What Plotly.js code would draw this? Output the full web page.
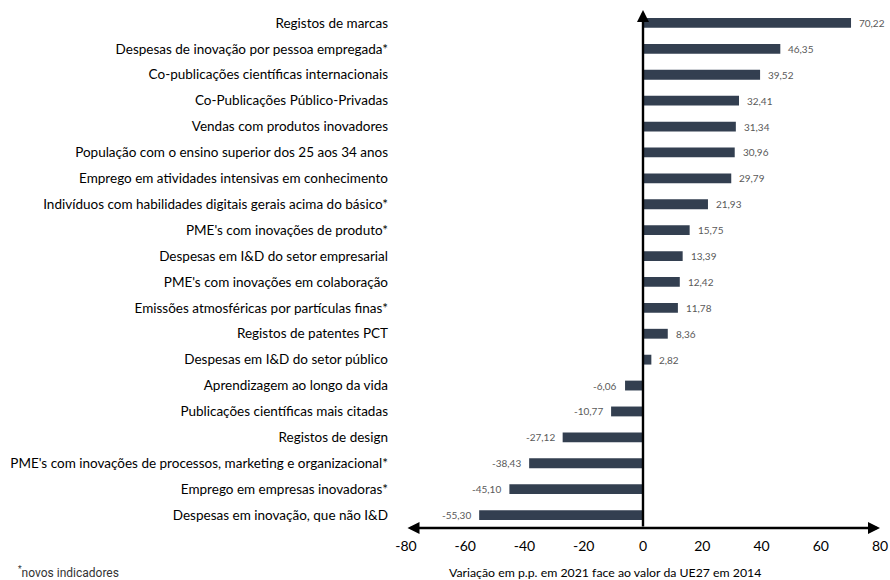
<!DOCTYPE html>
<html>
<head>
<meta charset="utf-8">
<script src="https://cdn.plot.ly/plotly-3.0.1.min.js"></script>
<style>
  html, body { margin: 0; padding: 0; background: #ffffff; }
  #chart { width: 890px; height: 580px; }
</style>
</head>
<body>
<div id="chart"></div>
<script>
// Indicators, listed top to bottom
const indicators = [
  "Registos de marcas",
  "Despesas de inovação por pessoa empregada*",
  "Co-publicações científicas internacionais",
  "Co-Publicações Público-Privadas",
  "Vendas com produtos inovadores",
  "População com o ensino superior dos 25 aos 34 anos",
  "Emprego em atividades intensivas em conhecimento",
  "Indivíduos com habilidades digitais gerais acima do básico*",
  "PME's com inovações de produto*",
  "Despesas em I&D do setor empresarial",
  "PME's com inovações em colaboração",
  "Emissões atmosféricas por partículas finas*",
  "Registos de patentes PCT",
  "Despesas em I&D do setor público",
  "Aprendizagem ao longo da vida",
  "Publicações científicas mais citadas",
  "Registos de design",
  "PME's com inovações de processos, marketing e organizacional*",
  "Emprego em empresas inovadoras*",
  "Despesas em inovação, que não I&D"
];

// Change in percentage points, 2021 vs EU27 2014
const variation = [
  70.22, 46.35, 39.52, 32.41, 31.34, 30.96, 29.79, 21.93, 15.75, 13.39,
  12.42, 11.78, 8.36, 2.82, -6.06, -10.77, -27.12, -38.43, -45.10, -55.30
];

const xTicks = [-80, -60, -40, -20, 0, 20, 40, 60, 80];

const barColor = "#333f50";
const labelFont = "Lato, 'Open Sans', sans-serif";

const bars = {
  type: "bar",
  orientation: "h",
  x: variation,
  y: indicators,
  marker: { color: barColor, line: { width: 0 } },
  width: 0.38,
  hoverinfo: "skip"
};

// Value labels next to each bar end
const valueLabels = variation.map((v, i) => ({
  xref: "x", yref: "y",
  x: v, y: indicators[i],
  text: v.toFixed(2).replace(".", ","),
  showarrow: false,
  xanchor: v >= 0 ? "left" : "right",
  xshift: v >= 0 ? 6 : -6,
  font: { family: labelFont, size: 10, color: "#595959" }
}));

// Axis arrows: vertical through zero, horizontal double-headed along the bottom
const axisArrows = [
  {
    xref: "x", yref: "paper",
    x: 0, y: 1.0,
    axref: "x", ayref: "paper",
    ax: 0, ay: 0,
    showarrow: true, arrowhead: 2, arrowsize: 1, arrowwidth: 2.4,
    arrowcolor: "#000000", text: "", standoff: 0, startstandoff: 0
  },
  {
    xref: "x", yref: "paper",
    x: 80, y: 0,
    axref: "x", ayref: "paper",
    ax: -80, ay: 0,
    showarrow: true, arrowhead: 2, arrowside: "end+start",
    arrowsize: 1, arrowwidth: 2.4,
    arrowcolor: "#000000", text: "", standoff: 0, startstandoff: 0
  }
];

// Axis caption under the tick labels
const axisCaption = {
  xref: "paper", yref: "paper",
  x: 0.42, y: -0.085,
  xanchor: "center", yanchor: "middle",
  showarrow: false,
  text: "Variação em p.p. em 2021 face ao valor da UE27 em 2014",
  font: { family: labelFont, size: 12.3, color: "#000000" }
};

const footnote = {
  xref: "paper", yref: "paper",
  x: -0.822, y: -0.085,
  xanchor: "left", yanchor: "middle",
  showarrow: false,
  text: "<sup>*</sup>novos indicadores",
  font: { family: "Roboto, sans-serif", size: 12, color: "#333333" }
};

const layout = {
  width: 890,
  height: 580,
  margin: { l: 406, r: 10, t: 10, b: 52 },
  paper_bgcolor: "#ffffff",
  plot_bgcolor: "#ffffff",
  showlegend: false,
  separators: ", ",
  xaxis: {
    range: [-80, 80],
    tickvals: xTicks,
    ticktext: xTicks.map(String),
    showgrid: false,
    zeroline: false,
    showline: false,
    ticks: "",
    ticklabelstandoff: 8,
    tickfont: { family: labelFont, size: 14, color: "#000000" },
    fixedrange: true
  },
  yaxis: {
    type: "category",
    categoryorder: "array",
    categoryarray: indicators,
    autorange: false,
    range: [19.5, -0.5],
    showgrid: false,
    zeroline: false,
    showline: false,
    ticks: "",
    ticklabelstandoff: 17,
    tickfont: { family: labelFont, size: 13.5, color: "#000000" },
    fixedrange: true
  },
  annotations: valueLabels.concat(axisArrows, [axisCaption, footnote])
};

Plotly.newPlot("chart", [bars], layout, { displayModeBar: false, staticPlot: true });
</script>
</body>
</html>
